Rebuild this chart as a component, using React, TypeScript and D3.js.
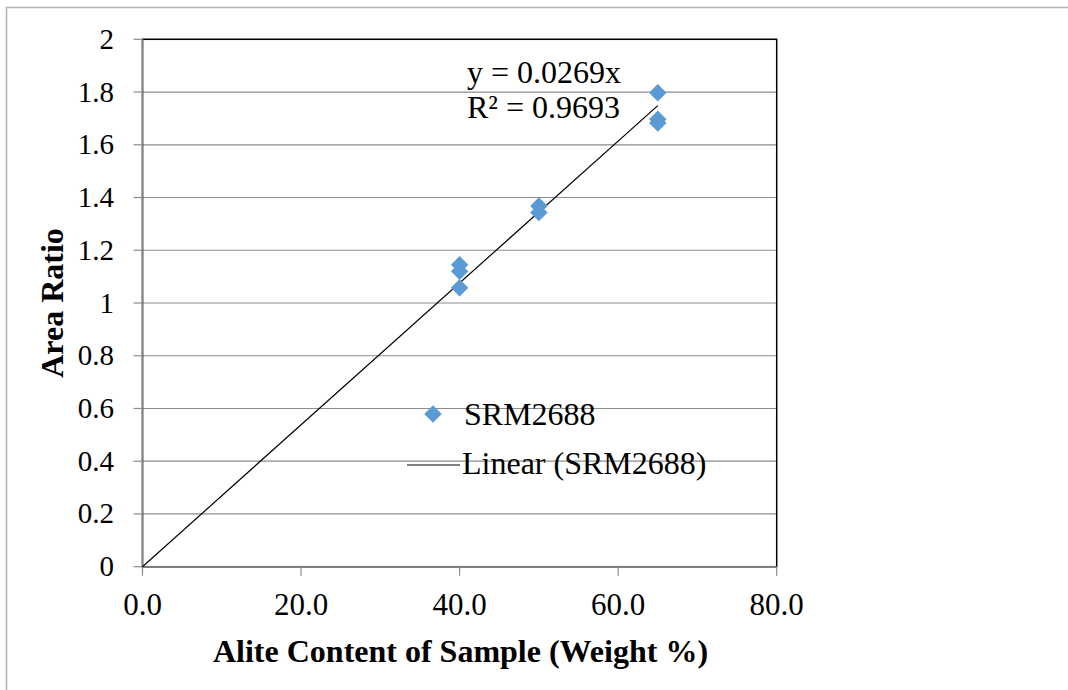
import React from "react";
import * as d3 from "d3";

// Alite content (weight %) of each sample and its measured area ratio
const aliteContent: number[] = [40, 40, 40, 50, 50, 65, 65, 65];
const areaRatio: number[] = [1.145, 1.12, 1.058, 1.368, 1.343, 1.797, 1.697, 1.683];

const xTicks: number[] = [0, 20, 40, 60, 80];
const yTicks: number[] = [0, 0.2, 0.4, 0.6, 0.8, 1, 1.2, 1.4, 1.6, 1.8, 2];

// Linear fit through the origin
const slope = 0.0269;
const rSquared = 0.9693;
const seriesName = "SRM2688";

const W = 1068;
const H = 690;
const plot = { left: 142.5, right: 776.7, top: 39.3, bottom: 566.7 };
const FONT = "'Liberation Serif', 'Times New Roman', serif";
const MARKER = "#5b9bd5";
const Y_TICK_FS = 29;
const X_TICK_FS = 31;
const TEXT_FS = 32;
const TITLE_FS = 32;

export default function App() {
  const x = d3.scaleLinear().domain([0, 80]).range([plot.left, plot.right]);
  const y = d3.scaleLinear().domain([0, 2]).range([plot.bottom, plot.top]);

  const xMax = d3.max(aliteContent) as number;
  const fitLine = d3
    .line<number>()
    .x((d) => x(d))
    .y((d) => y(slope * d))([0, xMax]) as string;

  const diamond = d3.symbol().type(d3.symbolDiamond2).size(195)() as string;

  return (
    <svg
      width={W}
      height={H}
      style={{ position: "absolute", left: 0, top: 0, background: "#fff" }}
      fontFamily={FONT}
    >
      {/* outer chart frame */}
      <rect x={6.5} y={7.5} width={W + 10} height={H + 10} fill="#fff" stroke="#b3b3b3" strokeWidth={1.5} />

      {/* horizontal gridlines */}
      {yTicks.map((t) => (
        <line key={"g" + t} x1={plot.left} x2={plot.right} y1={y(t)} y2={y(t)} stroke="#8c8c8c" strokeWidth={1.2} />
      ))}

      {/* plot area border */}
      <rect
        x={plot.left}
        y={plot.top}
        width={plot.right - plot.left}
        height={plot.bottom - plot.top}
        fill="none"
        stroke="#000"
        strokeWidth={1.5}
      />

      {/* axes */}
      <line x1={plot.left} x2={plot.left} y1={plot.top} y2={plot.bottom} stroke="#7f7f7f" strokeWidth={1.5} />
      <line x1={plot.left} x2={plot.right} y1={plot.bottom} y2={plot.bottom} stroke="#7f7f7f" strokeWidth={1.5} />

      {/* y ticks and labels */}
      {yTicks.map((t) => (
        <g key={"y" + t}>
          <line x1={plot.left - 9} x2={plot.left} y1={y(t)} y2={y(t)} stroke="#8c8c8c" strokeWidth={1.2} />
          <text x={114} y={y(t) + 9.5} textAnchor="end" fontSize={Y_TICK_FS} fill="#000">
            {d3.format("~g")(t)}
          </text>
        </g>
      ))}

      {/* x ticks and labels */}
      {xTicks.map((t) => (
        <g key={"x" + t}>
          <line x1={x(t)} x2={x(t)} y1={plot.bottom} y2={plot.bottom + 9} stroke="#8c8c8c" strokeWidth={1.2} />
          <text x={x(t)} y={615} textAnchor="middle" fontSize={X_TICK_FS} fill="#000">
            {d3.format(".1f")(t)}
          </text>
        </g>
      ))}

      {/* trendline */}
      <path d={fitLine} stroke="#000" strokeWidth={1.2} fill="none" />

      {/* data points */}
      {aliteContent.map((v, i) => (
        <path key={"p" + i} d={diamond} transform={`translate(${x(v)},${y(areaRatio[i])})`} fill={MARKER} />
      ))}

      {/* trendline equation */}
      <text x={467} y={83} fontSize={TEXT_FS} fill="#000">
        {`y = ${slope}x`}
      </text>
      <text x={467} y={118} fontSize={TEXT_FS} fill="#000">
        {`R² = ${rSquared}`}
      </text>

      {/* legend */}
      <path d={diamond} transform="translate(433,414)" fill={MARKER} />
      <text x={464} y={425} fontSize={TEXT_FS} fill="#000">
        {seriesName}
      </text>
      <line x1={407} x2={460} y1={465} y2={465} stroke="#000" strokeWidth={1.2} />
      <text x={462} y={474} fontSize={TEXT_FS} fill="#000">
        {`Linear (${seriesName})`}
      </text>

      {/* axis titles */}
      <text
        transform={`translate(63,${(plot.top + plot.bottom) / 2}) rotate(-90)`}
        textAnchor="middle"
        fontSize={TITLE_FS}
        fontWeight="bold"
        fill="#000"
      >
        Area Ratio
      </text>
      <text x={460.5} y={662} textAnchor="middle" fontSize={TITLE_FS} fontWeight="bold" fill="#000">
        Alite Content of Sample (Weight %)
      </text>
    </svg>
  );
}
